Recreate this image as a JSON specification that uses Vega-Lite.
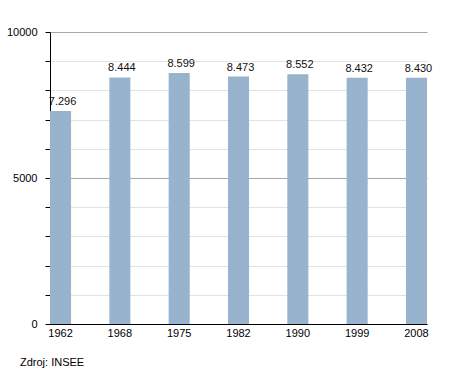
{
  "$schema": "https://vega.github.io/schema/vega-lite/v6.json",
  "autosize": "none",
  "width": 377,
  "height": 292,
  "padding": {"left": 50, "top": 32, "right": 28, "bottom": 49},
  "config": {
    "locale": {"number": {"decimal": ",", "thousands": ".", "grouping": [3], "currency": ["", ""]}},
    "view": {"stroke": null},
    "font": "Liberation Sans",
    "axis": {"labelFont": "Liberation Sans", "labelFontSize": 11, "labelColor": "#000"}
  },
  "title": {
    "text": "Zdroj: INSEE",
    "orient": "bottom",
    "anchor": "start",
    "frame": "group",
    "font": "Liberation Sans",
    "fontSize": 11,
    "fontWeight": "normal",
    "color": "#000",
    "offset": 19,
    "dx": -30
  },
  "data": {
    "values": [
      {"year": "1962", "pop": 7296},
      {"year": "1968", "pop": 8444},
      {"year": "1975", "pop": 8599},
      {"year": "1982", "pop": 8473},
      {"year": "1990", "pop": 8552},
      {"year": "1999", "pop": 8432},
      {"year": "2008", "pop": 8430}
    ]
  },
  "encoding": {
    "x": {
      "field": "year",
      "type": "nominal",
      "sort": null,
      "scale": {"paddingInner": 0.645, "paddingOuter": 0},
      "axis": {
        "title": null,
        "labelAngle": 0,
        "ticks": false,
        "domainColor": "#000",
        "domainWidth": 1,
        "labelPadding": 3,
        "grid": false
      }
    },
    "y": {
      "field": "pop",
      "type": "quantitative",
      "scale": {"domain": [0, 10000], "nice": false},
      "axis": {
        "title": null,
        "values": [0, 1000, 2000, 3000, 4000, 5000, 6000, 7000, 8000, 9000, 10000],
        "format": "d",
        "labelExpr": "datum.value % 5000 === 0 ? datum.label : ''",
        "domainColor": "#000",
        "tickColor": "#000",
        "tickSize": 5,
        "labelPadding": 8,
        "grid": true,
        "gridColor": {"condition": {"test": "datum.value % 5000 === 0", "value": "#a8a8a8"}, "value": "#e2e2e2"}
      }
    }
  },
  "layer": [
    {"mark": {"type": "bar", "color": "#98b3cd"}},
    {
      "mark": {"type": "text", "baseline": "bottom", "dy": -4, "dx": 2, "fontSize": 11, "color": "#111", "font": "Liberation Sans"},
      "encoding": {"text": {"field": "pop", "type": "quantitative", "format": ",d"}}
    }
  ]
}
